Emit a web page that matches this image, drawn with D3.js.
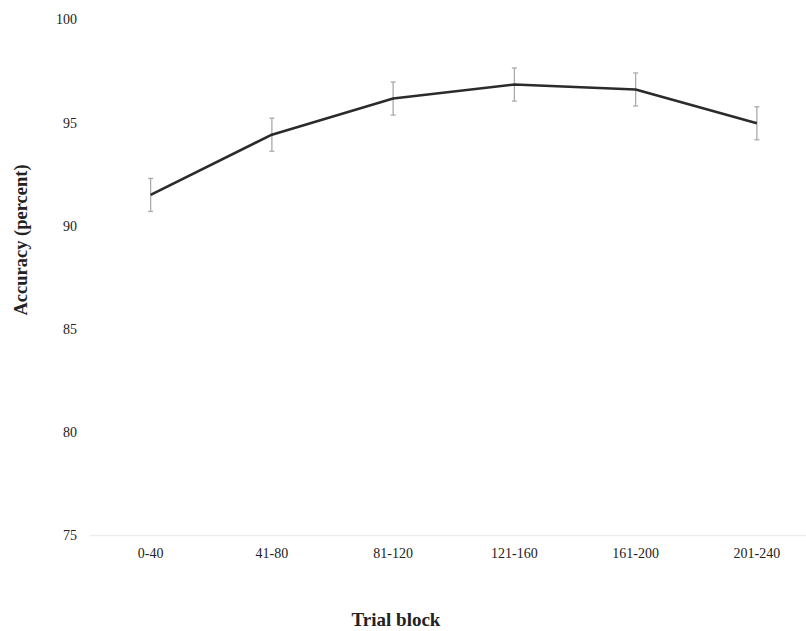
<!DOCTYPE html>
<html><head><meta charset="utf-8">
<script src="https://cdn.jsdelivr.net/npm/d3@7"></script>
<style>body{margin:0;background:#fff}svg{display:block}</style>
</head><body>
<svg id="c" width="806" height="631"></svg>
<script>
const categories = ["0-40","41-80","81-120","121-160","161-200","201-240"];
const accuracy = [91.5, 94.42, 96.17, 96.85, 96.61, 94.97];
const errorMargin = [0.8, 0.8, 0.8, 0.8, 0.8, 0.8];
const yTicks = [75, 80, 85, 90, 95, 100];

const svg = d3.select("#c");
const x = d3.scaleBand().domain(categories).range([90, 817.5]);
const y = d3.scaleLinear().domain([75, 100]).range([535.5, 19.5]);
const font = "'Liberation Serif', 'Times New Roman', serif";

// baseline
svg.append("line").attr("x1", 90).attr("x2", 806)
  .attr("y1", y(75)).attr("y2", y(75))
  .attr("stroke", "#ededed").attr("stroke-width", 1.5);

// y tick labels
svg.append("g").selectAll("text").data(yTicks).join("text")
  .attr("x", 77).attr("y", d => y(d)).attr("dy", "0.35em")
  .attr("text-anchor", "end").attr("font-family", font).attr("font-size", 14)
  .attr("fill", "#222").text(d => d);

// x tick labels
svg.append("g").selectAll("text").data(categories).join("text")
  .attr("x", d => x(d) + x.bandwidth() / 2).attr("y", 558)
  .attr("text-anchor", "middle").attr("font-family", font).attr("font-size", 14)
  .attr("fill", "#222").text(d => d);

const cx = d => x(d) + x.bandwidth() / 2;

// error bars
const eb = svg.append("g").attr("stroke", "#aaa").attr("stroke-width", 1.3);
categories.forEach((c, i) => {
  const top = y(accuracy[i] + errorMargin[i]), bot = y(accuracy[i] - errorMargin[i]);
  eb.append("line").attr("x1", cx(c)).attr("x2", cx(c)).attr("y1", top).attr("y2", bot);
  eb.append("line").attr("x1", cx(c) - 2.5).attr("x2", cx(c) + 2.5).attr("y1", top).attr("y2", top);
  eb.append("line").attr("x1", cx(c) - 2.5).attr("x2", cx(c) + 2.5).attr("y1", bot).attr("y2", bot);
});

// line
const line = d3.line().x((d, i) => cx(categories[i])).y(d => y(d));
svg.append("path").datum(accuracy).attr("d", line)
  .attr("fill", "none").attr("stroke", "#2b2b2b").attr("stroke-width", 2.6)
  .attr("stroke-linejoin", "round");

// axis titles
svg.append("text").attr("x", 396).attr("y", 626).attr("text-anchor", "middle")
  .attr("font-family", font).attr("font-size", 19).attr("font-weight", "bold")
  .attr("fill", "#222").text("Trial block");
svg.append("text").attr("transform", "translate(27,240) rotate(-90)")
  .attr("text-anchor", "middle").attr("font-family", font).attr("font-size", 18.5)
  .attr("font-weight", "bold").attr("fill", "#222").text("Accuracy (percent)");
</script>
</body></html>
